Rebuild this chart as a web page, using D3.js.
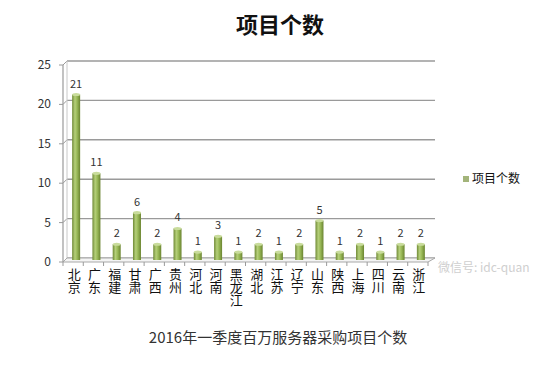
<!DOCTYPE html>
<html><head><meta charset="utf-8">
<script src="https://cdn.jsdelivr.net/npm/d3@7"></script>
<style>body{margin:0;background:#fff}svg{display:block}text{font-family:"Noto Sans CJK SC","Noto Sans",sans-serif}
.vlab{writing-mode:vertical-rl;text-orientation:upright;}</style>
</head><body>
<svg id="c" width="554" height="384"></svg>
<script>
const categories = ["北京","广东","福建","甘肃","广西","贵州","河北","河南","黑龙江","湖北","江苏","辽宁","山东","陕西","上海","四川","云南","浙江"];
const values = [21,11,2,6,2,4,1,3,1,2,1,2,5,1,2,1,2,2];
const yTicks = [0,5,10,15,20,25];
const seriesName = "项目个数";
const chartTitle = "项目个数";
const caption = "2016年一季度百万服务器采购项目个数";

const svg = d3.select("#c");
const DX = 4, DY = -4; // 3D depth offset
const front = {x0: 63, x1: 428, y0: 262};
const y = d3.scaleLinear().domain([0,25]).range([front.y0 + DY, front.y0 + DY - 197]); // back wall
const yBar = d3.scaleLinear().domain([0,25]).range([front.y0 + DY/2, front.y0 + DY/2 - 197]);
const xF = d3.scaleBand().domain(categories).range([front.x0, front.x1]);
const xM = d3.scaleBand().domain(categories).range([front.x0 + DX/2 + 1, front.x1 + DX/2 + 1]);

const defs = svg.append("defs");
const g = defs.append("linearGradient").attr("id","bar").attr("x1","0").attr("x2","1");
g.append("stop").attr("offset","0").attr("stop-color","#6f8a35");
g.append("stop").attr("offset","0.35").attr("stop-color","#b5cf7a");
g.append("stop").attr("offset","0.6").attr("stop-color","#9bbb59");
g.append("stop").attr("offset","1").attr("stop-color","#6a8430");

// Title
svg.append("text").attr("x",280).attr("y",33).attr("text-anchor","middle")
  .attr("font-size",22).attr("font-weight","bold").attr("fill","#111").text(chartTitle);

// back wall gridlines
const gridG = svg.append("g");
yTicks.forEach(v => {
  gridG.append("line").attr("x1", front.x0 + DX).attr("x2", front.x1 + DX + 3)
    .attr("y1", y(v)).attr("y2", y(v)).attr("stroke", v===0 ? "#b0b0b0" : "#9a9a9a").attr("stroke-width",1.4);
  gridG.append("line").attr("x1", front.x0).attr("y1", y(v) - DY).attr("x2", front.x0 + DX).attr("y2", y(v))
    .attr("stroke","#9a9a9a").attr("stroke-width",1);
});
gridG.append("line").attr("x1", front.x0 + DX).attr("x2", front.x0 + DX)
  .attr("y1", y(25)).attr("y2", y(0)).attr("stroke","#c8c8c8").attr("stroke-width",1);
// floor
svg.append("path").attr("d", `M${front.x0},${front.y0} L${front.x1},${front.y0} L${front.x1+DX+3},${front.y0+DY} L${front.x0+DX},${front.y0+DY} Z`)
  .attr("fill","#f4f4f4").attr("stroke","#a8a8a8").attr("stroke-width",1);

// front y axis
const yAxisG = svg.append("g");
yAxisG.append("line").attr("x1", front.x0).attr("x2", front.x0).attr("y1", y(25) - DY).attr("y2", front.y0)
  .attr("stroke","#9a9a9a").attr("stroke-width",1.2);
yTicks.forEach(v => {
  yAxisG.append("line").attr("x1", front.x0 - 4).attr("x2", front.x0).attr("y1", y(v) - DY).attr("y2", y(v) - DY)
    .attr("stroke","#9a9a9a");
  yAxisG.append("text").attr("x", 51).attr("y", y(v) - DY + 4).attr("text-anchor","end")
    .attr("font-size",12).attr("fill","#333").attr("font-family","Liberation Sans, Arial, sans-serif").text(v);
});

// x ticks
categories.concat(["_end"]).forEach((c,i) => {
  const xx = i < categories.length ? xF(c) : front.x1;
  svg.append("line").attr("x1", xx).attr("x2", xx).attr("y1", front.y0).attr("y2", front.y0 + 4).attr("stroke","#9a9a9a");
});

// bars
const bw = 8;
const bars = svg.append("g").selectAll("g").data(categories).join("g");
bars.append("rect")
  .attr("x", (d) => xM(d) + xM.bandwidth()/2 - bw/2)
  .attr("width", bw)
  .attr("y", (d,i) => yBar(values[i]))
  .attr("height", (d,i) => yBar(0) - yBar(values[i]))
  .attr("fill","url(#bar)");
bars.append("ellipse")
  .attr("cx", d => xM(d) + xM.bandwidth()/2)
  .attr("cy", (d,i) => yBar(values[i]))
  .attr("rx", bw/2).attr("ry", 1.6)
  .attr("fill","#c9dc9c");
bars.append("text")
  .attr("x", d => xM(d) + xM.bandwidth()/2)
  .attr("y", (d,i) => yBar(values[i]) - 7)
  .attr("text-anchor","middle").attr("font-size",11).attr("fill","#333")
  .attr("font-family","Liberation Sans, Arial, sans-serif")
  .text((d,i) => values[i]);

// x labels vertical
svg.append("g").selectAll("text").data(categories).join("text")
  .attr("class","vlab")
  .attr("x", d => xF(d) + xF.bandwidth()/2 + 1)
  .attr("y", 268)
  .attr("font-size",13).attr("fill","#111")
  .text(d => d);

// legend
svg.append("rect").attr("x",463).attr("y",176).attr("width",6).attr("height",6).attr("fill","#a3b47a");
svg.append("text").attr("x",472).attr("y",183).attr("font-size",12).attr("fill","#111").text(seriesName);

// watermark
svg.append("text").attr("x",438).attr("y",272).attr("font-size",12).attr("fill","#cfcfcf").text("微信号: idc-quan");

// caption
svg.append("text").attr("x",278).attr("y",343).attr("text-anchor","middle")
  .attr("font-size",15).attr("fill","#333").text(caption);
</script>
</body></html>
